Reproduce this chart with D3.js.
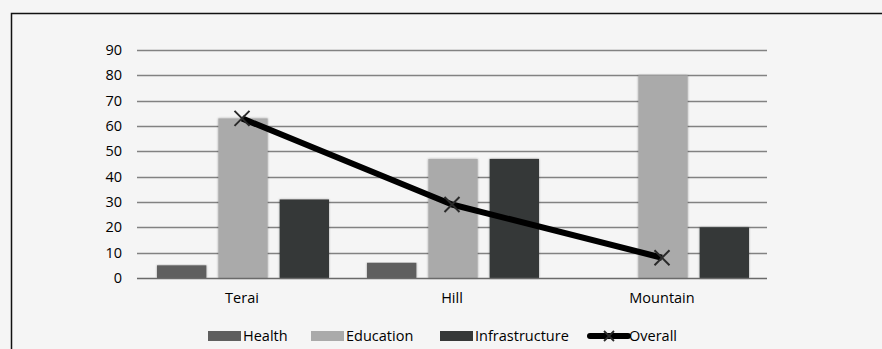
<!DOCTYPE html>
<html lang="en">
<head>
    <script src="https://d3js.org/d3.v7.min.js"></script>
    <style>
        body {
            margin: 0;
            background: #f5f5f5;
            font-family: 'Open Sans', sans-serif;
        }
        .tick text, .cat-label, .legend-text {
            font-family: 'Open Sans', sans-serif;
            font-size: 14.5px;
            fill: #000;
        }
    </style>
</head>
<body>
    <div id="chart"></div>
    <script>
        const regions = ["Terai", "Hill", "Mountain"];
        const seriesNames = ["Health", "Education", "Infrastructure"];
        const health = [5, 6, 0];
        const education = [63, 47, 80];
        const infrastructure = [31, 47, 20];
        const overall = [63, 29, 8];
        const yTicks = [0, 10, 20, 30, 40, 50, 60, 70, 80, 90];

        const colors = {Health: "#5f5f5f", Education: "#aaaaaa", Infrastructure: "#363838"};

        const W = 882, H = 349;
        const margin = {top: 50, left: 137, right: 115, bottom: 71};
        const width = W - margin.left - margin.right;
        const height = H - margin.top - margin.bottom;

        const svg = d3.select("#chart").append("svg")
            .attr("width", W)
            .attr("height", H);

        // outer frame
        svg.append("rect")
            .attr("x", 11.5).attr("y", 13.5)
            .attr("width", W).attr("height", H)
            .attr("fill", "#f5f5f5")
            .attr("stroke", "#111")
            .attr("stroke-width", 1.5);

        const defs = svg.append("defs");
        const f = defs.append("filter").attr("id", "shadow")
            .attr("x", "-20%").attr("y", "-5%").attr("width", "140%").attr("height", "110%");
        f.append("feGaussianBlur").attr("in", "SourceAlpha").attr("stdDeviation", 1.2).attr("result", "b");
        f.append("feFlood").attr("flood-color", "#000").attr("flood-opacity", 0.35);
        f.append("feComposite").attr("in2", "b").attr("operator", "in").attr("result", "s");
        const m = f.append("feMerge");
        m.append("feMergeNode").attr("in", "s");
        m.append("feMergeNode").attr("in", "SourceGraphic");

        const g = svg.append("g")
            .attr("transform", `translate(${margin.left},${margin.top})`);

        const x = d3.scaleBand().domain(regions).range([0, width]);
        const x1 = d3.scaleBand().domain(seriesNames)
            .range([20, x.bandwidth() - 18])
            .paddingInner(0.195);
        const y = d3.scaleLinear().domain([0, 90]).range([height, 0]);

        // gridlines
        g.append("g")
            .selectAll("line")
            .data(yTicks.slice(1))
            .join("line")
            .attr("x1", 0).attr("x2", width)
            .attr("y1", d => Math.round(y(d)) + 0.5)
            .attr("y2", d => Math.round(y(d)) + 0.5)
            .attr("stroke", "#828282")
            .attr("stroke-width", 1.4);

        // y axis labels
        const yAxis = g.append("g")
            .call(d3.axisLeft(y).tickValues(yTicks).tickSize(0).tickPadding(15));
        yAxis.select(".domain").remove();

        // bars
        const data = regions.map((r, i) => ({
            region: r,
            values: [
                {key: "Health", value: health[i]},
                {key: "Education", value: education[i]},
                {key: "Infrastructure", value: infrastructure[i]}
            ]
        }));

        g.selectAll(".grp")
            .data(data)
            .join("g")
            .attr("class", "grp")
            .attr("transform", d => `translate(${x(d.region)},0)`)
            .selectAll("rect")
            .data(d => d.values.filter(v => v.value > 0))
            .join("rect")
            .attr("x", d => x1(d.key))
            .attr("y", d => y(d.value))
            .attr("width", x1.bandwidth())
            .attr("height", d => height - y(d.value))
            .attr("fill", d => colors[d.key])
            .attr("filter", "url(#shadow)");

        // zero axis line
        g.append("line")
            .attr("x1", 0).attr("x2", width)
            .attr("y1", height + 0.5).attr("y2", height + 0.5)
            .attr("stroke", "#6a6a6a")
            .attr("stroke-width", 1.5);

        // category labels
        g.selectAll(".cat-label")
            .data(regions)
            .join("text")
            .attr("class", "cat-label")
            .attr("x", d => x(d) + x.bandwidth() / 2)
            .attr("y", height + 25)
            .attr("text-anchor", "middle")
            .text(d => d);

        // overall line
        const pts = regions.map((r, i) => [x(r) + x.bandwidth() / 2, y(overall[i])]);
        g.append("path")
            .attr("d", d3.line()(pts))
            .attr("fill", "none")
            .attr("stroke", "#000")
            .attr("stroke-width", 6)
            .attr("stroke-linejoin", "round");

        const xMark = (cx, cy, s) => `M${cx - s},${cy - s}L${cx + s},${cy + s}M${cx - s},${cy + s}L${cx + s},${cy - s}`;
        g.selectAll(".mark")
            .data(pts)
            .join("path")
            .attr("class", "mark")
            .attr("d", d => xMark(d[0], d[1], 7.5))
            .attr("stroke", "#2a2a2a")
            .attr("stroke-width", 2);

        // legend
        const legendY = 336;
        const legend = svg.append("g");
        const legendItems = [
            {key: "Health", x: 208},
            {key: "Education", x: 311},
            {key: "Infrastructure", x: 440},
            {key: "Overall", x: 590}
        ];
        legendItems.forEach(it => {
            const lg = legend.append("g").attr("transform", `translate(${it.x},${legendY})`);
            if (it.key === "Overall") {
                lg.append("line").attr("x1", 0).attr("x2", 38)
                    .attr("y1", 0).attr("y2", 0)
                    .attr("stroke", "#000").attr("stroke-width", 6)
                    .attr("stroke-linecap", "round");
                lg.append("path").attr("d", xMark(19, 0, 5))
                    .attr("stroke", "#2a2a2a").attr("stroke-width", 1.8);
                lg.append("text").attr("class", "legend-text")
                    .attr("x", 39).attr("y", 0).attr("dy", "0.35em").text(it.key);
            } else {
                lg.append("rect").attr("x", 0).attr("y", -5)
                    .attr("width", 33).attr("height", 10)
                    .attr("fill", colors[it.key]);
                lg.append("text").attr("class", "legend-text")
                    .attr("x", 35).attr("y", 0).attr("dy", "0.35em").text(it.key);
            }
        });
    </script>
</body>
</html>
